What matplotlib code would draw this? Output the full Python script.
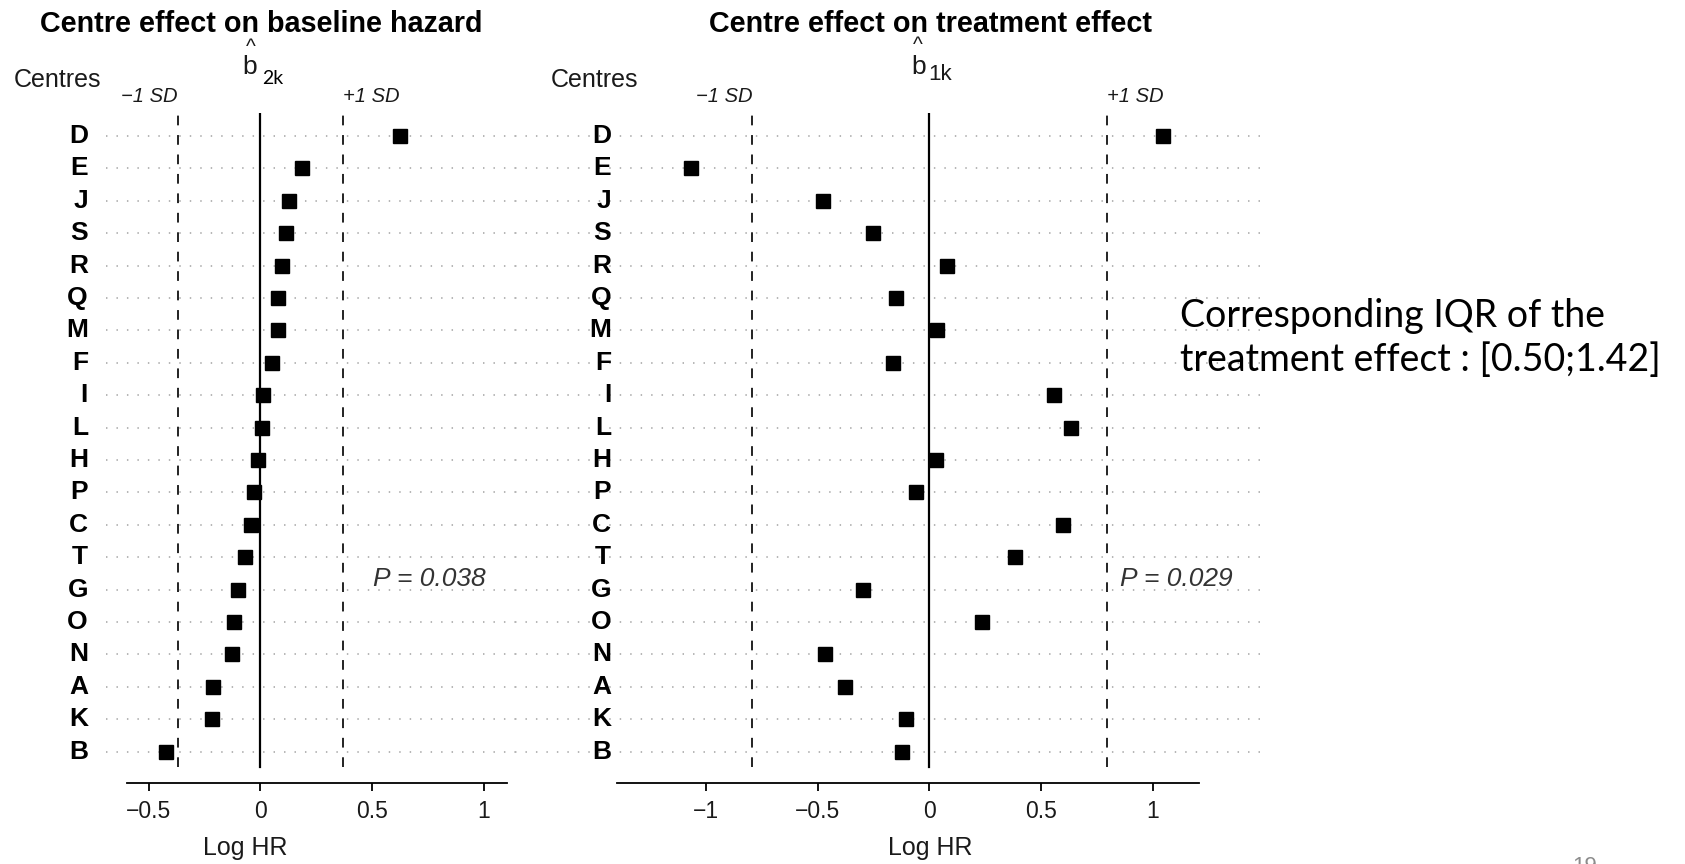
import matplotlib
matplotlib.use("Agg")
import matplotlib.pyplot as plt

# centres, top to bottom
centres = ["D", "E", "J", "S", "R", "Q", "M", "F", "I", "L",
           "H", "P", "C", "T", "G", "O", "N", "A", "K", "B"]
# centre effect on baseline hazard (log HR)
b2k = [0.626, 0.187, 0.128, 0.114, 0.099, 0.081, 0.081, 0.051, 0.011, 0.008,
       -0.010, -0.027, -0.040, -0.069, -0.101, -0.119, -0.128, -0.212, -0.215, -0.424]
# centre effect on treatment effect (log HR)
b1k = [1.046, -1.068, -0.478, -0.254, 0.080, -0.148, 0.034, -0.164, 0.558, 0.634,
       0.030, -0.060, 0.598, 0.382, -0.298, 0.236, -0.468, -0.378, -0.106, -0.122]
sd_left = 0.369
sd_right = 0.794
p_left = "P = 0.038"
p_right = "P = 0.029"
ticks_left = [-0.5, 0, 0.5, 1]
ticks_right = [-1, -0.5, 0, 0.5, 1]
tick_labels_left = ["\u22120.5", "0", "0.5", "1"]
tick_labels_right = ["\u22121", "\u22120.5", "0", "0.5", "1"]

W, H = 1685, 864
fig = plt.figure(figsize=(W / 100, H / 100), dpi=100)
plt.rcParams["font.family"] = ["Liberation Sans", "DejaVu Sans"]

PX = 223.3          # pixels per log-HR unit
ROW = 32.4          # pixels per row
Y_D, Y_TOP, Y_BOT = 136, 113, 783
TXT = "#1a1a1a"


def fx(px):
    return px / W


def fy(py):
    return 1 - py / H


def panel(x0, x1, zero_px, values, sd, spine, ticks, tick_labels, label_px,
          ptxt, p_px, xlab_px):
    ax = fig.add_axes([fx(x0), fy(Y_BOT), fx(x1 - x0), (Y_BOT - Y_TOP) / H])
    n = len(centres)
    ax.set_xlim((x0 - zero_px) / PX, (x1 - zero_px) / PX)
    y_of = lambda py: (Y_D + (n - 1) * ROW - py) / ROW
    ax.set_ylim(y_of(Y_BOT), y_of(Y_TOP))
    ys = [n - 1 - i for i in range(n)]
    for y in ys:
        ax.axhline(y, color="#b0b0b0", lw=1.3, ls=(0, (0.8, 5)), zorder=1)
    vb = y_of(767)
    ax.plot([0, 0], [vb, y_of(Y_TOP)], color="black", lw=1.6, zorder=2)
    for s in (-sd, sd):
        ax.plot([s, s], [vb, y_of(Y_TOP)], color="#222222", lw=1.4,
                ls=(0, (5, 5)), zorder=2)
    ax.plot(values, ys, ls="none", marker="s", ms=9.5, color="black", zorder=3)
    for c, y in zip(centres, ys):
        ax.text((label_px - zero_px) / PX, y, c, ha="right", va="center",
                fontsize=19, fontweight="bold", color="black")
    for sp in ("top", "right", "left"):
        ax.spines[sp].set_visible(False)
    ax.spines["bottom"].set_bounds(*spine)
    ax.spines["bottom"].set_linewidth(1.3)
    ax.set_yticks([])
    ax.set_xticks(ticks)
    ax.set_xticklabels(tick_labels, fontsize=16.5, color=TXT)
    ax.tick_params(axis="x", length=6, width=1.3, pad=6)
    fig.text(fx(xlab_px), fy(848), "Log HR", ha="center", va="center",
             fontsize=18, color=TXT)
    ax.text(-sd, y_of(96), "\u22121 SD", ha="right", va="center",
            fontsize=14.5, style="italic", color=TXT)
    ax.text(sd, y_of(96), "+1 SD", ha="left", va="center",
            fontsize=14.5, style="italic", color=TXT)
    ax.text((p_px - zero_px) / PX, y_of(579), ptxt, ha="left", va="center",
            fontsize=19, style="italic", color="#333333")
    return ax


panel(106, 515, 260.3, b2k, sd_left, (-0.599, 1.103), ticks_left,
      tick_labels_left, 88, p_left, 373, 245)
panel(515, 1263, 929.4, b1k, sd_right, (-1.401, 1.207), ticks_right,
      tick_labels_right, 611, p_right, 1120, 930)

# titles
fig.text(fx(261), fy(24), "Centre effect on baseline hazard", ha="center",
         va="center", fontsize=20.7, fontweight="bold", color="black")
fig.text(fx(930), fy(24), "Centre effect on treatment effect", ha="center",
         va="center", fontsize=20.7, fontweight="bold", color="black")

# Centres headers
fig.text(fx(14), fy(80), "Centres", ha="left", va="center", fontsize=18, color=TXT)
fig.text(fx(551), fy(80), "Centres", ha="left", va="center", fontsize=18, color=TXT)

# b-hat labels
fig.text(fx(250), fy(74), "b", ha="center", va="baseline", fontsize=19, color=TXT)
fig.text(fx(251), fy(47), "^", ha="center", va="center", fontsize=15, color=TXT)
fig.text(fx(262), fy(84), "2k", ha="left", va="baseline", fontsize=14,
         family=["Lato", "DejaVu Sans"], color="black")
fig.text(fx(919), fy(74), "b", ha="center", va="baseline", fontsize=19, color=TXT)
fig.text(fx(918), fy(46), "^", ha="center", va="center", fontsize=15, color=TXT)
fig.text(fx(928), fy(80), "1k", ha="left", va="baseline", fontsize=16, color=TXT)

# side annotation
fig.text(fx(1180), fy(316), "Corresponding IQR of the", ha="left", va="center",
         fontsize=27, family=["Lato", "DejaVu Sans"], color="black")
fig.text(fx(1180), fy(360), "treatment effect : [0.50;1.42]", ha="left",
         va="center", fontsize=27, family=["Lato", "DejaVu Sans"], color="black")

# page number (cut off at bottom)
fig.text(fx(1585), fy(872), "19", ha="center", va="baseline", fontsize=16,
         color="#8c8c8c")

fig.savefig("out.png", dpi=100)
